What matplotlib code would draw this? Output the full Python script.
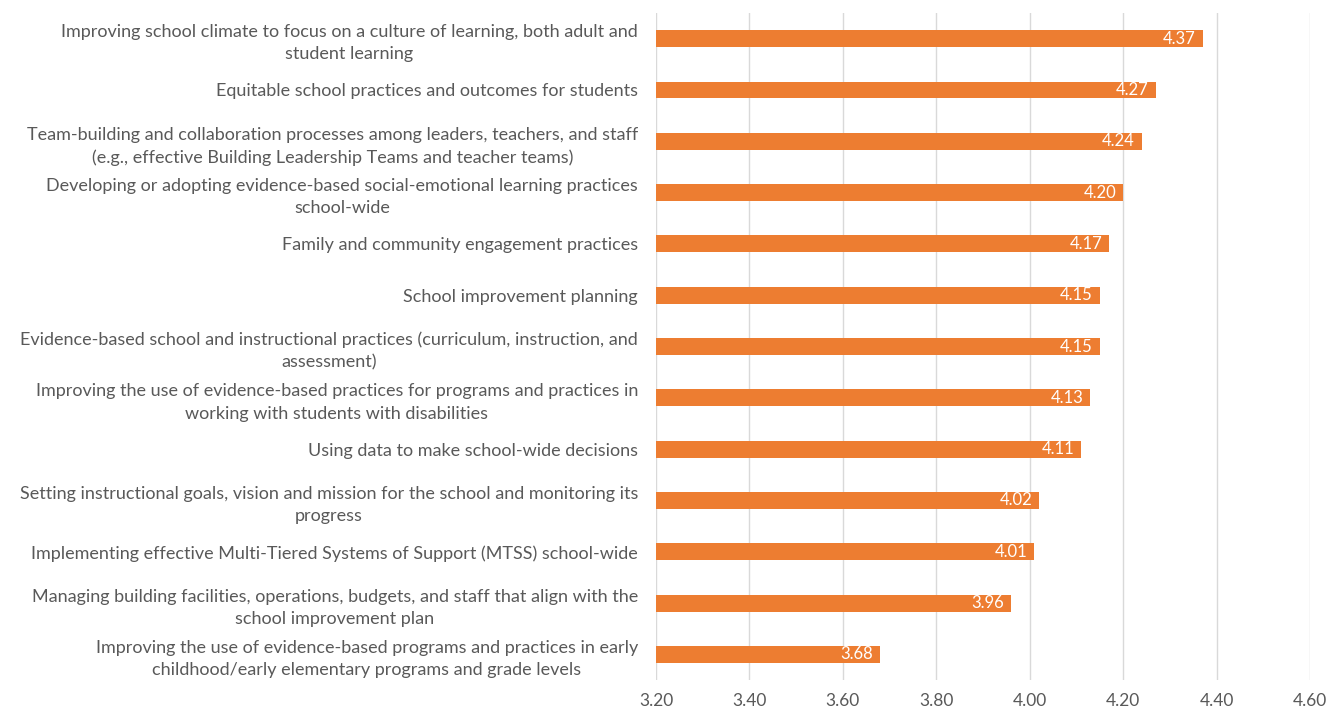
import matplotlib
matplotlib.use("Agg")
import matplotlib.pyplot as plt
import numpy as np

categories = [
    "Improving school climate to focus on a culture of learning, both adult and\nstudent learning",
    "Equitable school practices and outcomes for students",
    "Team-building and collaboration processes among leaders, teachers, and staff\n(e.g., effective Building Leadership Teams and teacher teams)",
    "Developing or adopting evidence-based social-emotional learning practices\nschool-wide",
    "Family and community engagement practices",
    "School improvement planning",
    "Evidence-based school and instructional practices (curriculum, instruction, and\nassessment)",
    "Improving the use of evidence-based practices for programs and practices in\nworking with students with disabilities",
    "Using data to make school-wide decisions",
    "Setting instructional goals, vision and mission for the school and monitoring its\nprogress",
    "Implementing effective Multi-Tiered Systems of Support (MTSS) school-wide",
    "Managing building facilities, operations, budgets, and staff that align with the\nschool improvement plan",
    "Improving the use of evidence-based programs and practices in early\nchildhood/early elementary programs and grade levels",
]
scores = [4.37, 4.27, 4.24, 4.20, 4.17, 4.15, 4.15, 4.13, 4.11, 4.02, 4.01, 3.96, 3.68]
x_ticks = [3.20, 3.40, 3.60, 3.80, 4.00, 4.20, 4.40, 4.60]

plt.rcParams["font.family"] = ["Lato", "DejaVu Sans"]

fig = plt.figure(figsize=(13.3, 7.12), dpi=100)
ax = fig.add_axes([0.4932, 0.0449, 0.985 - 0.4932, 0.9817 - 0.0449])

base = x_ticks[0]
pos = np.arange(len(categories))
ax.barh(pos, np.array(scores) - base, left=base, height=0.33,
        color="#ED7D31", zorder=3)

for p, v in zip(pos, scores):
    ax.annotate(f"{v:.2f}", xy=(v, p), xytext=(-5, 0), textcoords="offset points",
                ha="right", va="center", color="white", fontsize=12, zorder=4)

ax.set_xlim(x_ticks[0], x_ticks[-1])
ax.set_ylim(len(categories) - 0.5, -0.5)
ax.set_xticks(x_ticks)
ax.set_xticklabels([f"{t:.2f}" for t in x_ticks])
ax.set_yticks(pos)
ax.set_yticklabels(categories, multialignment="center", linespacing=1.48)

ax.grid(axis="x", color="#D9D9D9", linewidth=1, zorder=0)
for s in ax.spines.values():
    s.set_visible(False)
ax.tick_params(axis="y", length=0, pad=13, labelsize=13, labelcolor="#595959")
ax.tick_params(axis="x", length=0, pad=9, labelsize=12.5, labelcolor="#595959")

fig.savefig("out.png", dpi=100, facecolor="white")
